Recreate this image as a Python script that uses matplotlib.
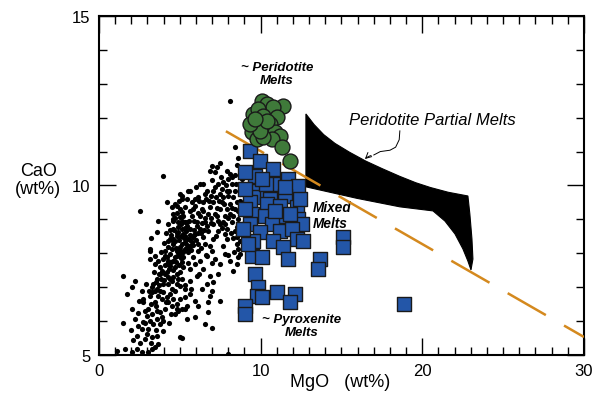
import numpy as np
import matplotlib.pyplot as plt
from matplotlib.patches import Polygon
from matplotlib.ticker import MultipleLocator

plt.rcParams['font.family'] = ['Liberation Sans', 'DejaVu Sans']
plt.rcParams['lines.scale_dashes'] = False

# whole-rock / melt compositions (MgO, CaO in wt%)
bulk = [
    (8.10, 12.49), (8.41, 11.14), (2.54, 9.25), (3.65, 8.95), (1.48, 7.33), (1.48, 5.94),
    (1.61, 5.18), (3.15, 8.13), (5.01, 5.53), (6.56, 5.91), (7.98, 5.03), (7.79, 7.98),
    (6.68, 7.92), (2.04, 7.01), (2.23, 7.18), (1.73, 6.80), (2.66, 6.89), (2.04, 6.36),
    (2.41, 5.86), (2.66, 5.77), (2.35, 5.56), (2.72, 5.97), (2.97, 6.15), (2.84, 6.30),
    (2.72, 6.56), (2.72, 6.65), (3.34, 7.09), (3.59, 7.24), (3.77, 7.39), (3.90, 7.48),
    (3.15, 6.74), (3.28, 6.86), (3.46, 6.89), (3.65, 6.74), (3.90, 6.65), (3.96, 6.86),
    (4.21, 6.71), (4.27, 6.56), (4.51, 6.45), (4.08, 6.36), (3.77, 6.27), (3.90, 6.12),
    (3.96, 6.00), (3.77, 5.91), (3.34, 5.91), (3.15, 6.00), (3.03, 5.77), (2.97, 5.62),
    (3.28, 5.53), (2.84, 5.47), (3.59, 5.56), (4.82, 6.36), (4.70, 6.21), (5.13, 6.36),
    (5.44, 6.06), (5.44, 6.45), (4.51, 7.18), (4.82, 7.39), (5.13, 7.24), (5.19, 7.60),
    (4.21, 7.45), (4.39, 7.63), (4.27, 7.77), (4.82, 7.92), (5.13, 7.74), (3.15, 8.07),
    (3.46, 7.92), (4.08, 7.92), (4.82, 8.07), (1.11, 5.12), (2.04, 5.09), (2.35, 5.18),
    (2.66, 5.09), (3.28, 5.18), (3.65, 5.32), (4.58, 7.77), (4.70, 7.60), (5.01, 7.45),
    (4.89, 7.24), (4.82, 7.09), (5.63, 7.18), (6.06, 7.33), (6.86, 7.33), (7.05, 7.15),
    (6.37, 6.95), (6.99, 6.89), (6.86, 6.74), (5.94, 6.59), (6.12, 6.45), (6.74, 6.56),
    (7.48, 6.59), (4.82, 6.50), (4.58, 6.65), (4.89, 6.30), (5.32, 6.36), (6.99, 5.80),
    (5.13, 5.50), (6.99, 8.07), (3.96, 10.28), (5.50, 9.84), (5.01, 9.75), (5.13, 9.60),
    (4.21, 9.51), (4.70, 9.45), (4.51, 9.37), (5.13, 9.22), (4.58, 8.95), (5.01, 9.07),
    (5.32, 8.92), (4.89, 8.78), (3.59, 8.63), (4.58, 8.42), (4.82, 8.51), (4.51, 8.13),
    (3.15, 7.83), (3.46, 7.68), (4.21, 7.68), (5.32, 8.51), (5.44, 8.81), (6.99, 10.58),
    (7.30, 10.55), (6.86, 10.43), (7.17, 10.40), (7.92, 10.43), (8.10, 10.34), (7.67, 10.10),
    (7.98, 10.19), (8.23, 10.04), (6.43, 10.04), (6.68, 9.84), (5.63, 9.84), (5.13, 9.69),
    (7.05, 9.84), (7.48, 9.75), (7.92, 9.84), (8.41, 9.84), (8.29, 9.66), (5.94, 9.60),
    (6.43, 9.51), (7.05, 9.51), (7.61, 9.51), (8.10, 9.45), (8.53, 9.51), (4.82, 9.40),
    (5.32, 9.37), (5.81, 9.31), (6.37, 9.31), (6.86, 9.37), (7.48, 9.31), (7.92, 9.31),
    (8.41, 9.31), (4.58, 9.16), (5.19, 9.10), (5.75, 9.10), (6.25, 9.10), (6.74, 9.16),
    (7.30, 9.10), (7.79, 9.10), (8.29, 9.10), (4.89, 8.92), (5.44, 8.92), (6.06, 8.92),
    (6.56, 8.92), (7.05, 8.86), (7.67, 8.92), (8.23, 8.92), (8.60, 9.01), (4.58, 8.72),
    (5.13, 8.72), (5.63, 8.72), (6.25, 8.72), (6.74, 8.66), (7.36, 8.66), (7.92, 8.72),
    (8.53, 8.78), (5.81, 8.48), (6.43, 8.48), (7.05, 8.42), (7.92, 8.42), (8.53, 8.48),
    (4.58, 8.27), (5.13, 8.27), (5.63, 8.22), (6.86, 8.22), (4.89, 8.04), (5.50, 8.04),
    (8.53, 8.27), (8.60, 8.13), (8.72, 7.98), (4.70, 8.36), (5.01, 8.19), (5.32, 8.33),
    (4.39, 7.98), (4.70, 7.89), (5.01, 7.98), (5.32, 8.13), (4.27, 8.19), (4.08, 8.07),
    (4.39, 8.42), (4.89, 8.63), (5.19, 8.57), (5.50, 8.42), (5.75, 8.33), (5.94, 8.57),
    (6.12, 8.27), (3.96, 7.83), (3.77, 7.60), (3.65, 7.77), (4.08, 7.39), (4.39, 7.24),
    (3.96, 7.09), (3.59, 6.95), (4.51, 6.95), (4.27, 7.09), (4.70, 6.89), (5.01, 7.04),
    (5.32, 6.95), (5.63, 6.80), (5.32, 6.71), (5.01, 6.65), (4.39, 6.80), (8.84, 10.19),
    (8.72, 10.01), (8.91, 9.45), (8.84, 8.86), (8.72, 8.36), (8.60, 7.89), (8.53, 7.68),
    (8.29, 7.48), (8.72, 9.75), (8.60, 9.25), (8.91, 9.16), (7.98, 9.69), (7.36, 10.04),
    (7.61, 9.90), (6.56, 9.75), (6.12, 9.66), (7.17, 9.16), (8.10, 9.16), (8.41, 8.66),
    (7.79, 8.57), (7.48, 8.86), (6.56, 8.27), (6.12, 8.07), (5.81, 7.89), (6.25, 7.77),
    (7.17, 7.83), (7.48, 7.68), (8.10, 7.77), (6.43, 7.54), (5.63, 7.54), (5.94, 7.68),
    (7.36, 7.39), (6.74, 6.27), (5.94, 6.12),
    (4.45, 8.55), (4.65, 8.70), (4.75, 8.15), (4.95, 8.40), (5.05, 8.85), (5.20, 8.05),
    (5.25, 8.45), (5.40, 8.65), (5.45, 8.25), (5.55, 8.95), (5.60, 8.55), (5.70, 8.10),
    (5.85, 8.70), (5.90, 8.95), (6.00, 8.40), (6.05, 8.80), (4.60, 9.00), (4.80, 9.20),
    (5.00, 9.30), (5.60, 9.25), (5.95, 9.40), (6.20, 9.55), (6.30, 8.60), (6.55, 9.05),
    (6.60, 9.60), (6.95, 9.70), (7.20, 9.95), (7.70, 9.65), (7.85, 10.00), (8.40, 10.30),
    (8.00, 9.05), (7.60, 8.75), (7.25, 8.50), (6.90, 8.90), (8.30, 8.45), (8.70, 8.60),
    (8.20, 9.35), (8.75, 9.55), (8.80, 10.50), (8.55, 10.60), (4.15, 8.60), (4.30, 8.85),
    (4.00, 8.30), (3.85, 8.05), (4.20, 7.90), (4.45, 7.75), (4.60, 7.50), (4.95, 7.65),
    (3.70, 7.40), (3.55, 7.15), (3.40, 7.45), (3.30, 7.00), (3.10, 6.90), (2.90, 7.10),
    (2.50, 6.60), (2.40, 6.25), (2.20, 6.05), (2.00, 5.75), (2.10, 5.45), (2.55, 5.35),
    (3.05, 5.10), (3.45, 5.25), (3.55, 6.45), (3.30, 6.20), (3.60, 6.05), (4.15, 6.55),
    (4.45, 6.20), (3.95, 5.70), (4.35, 5.95), (4.00, 7.20), (3.80, 6.90), (4.60, 7.30),
    (5.30, 7.05), (5.70, 6.95), (5.20, 7.90), (5.50, 7.70), (5.80, 8.25), (6.30, 8.15),
    (6.60, 7.95), (6.20, 7.40), (6.70, 7.10), (7.00, 7.70), (7.70, 8.20), (7.95, 7.95),
    (8.35, 8.05), (7.40, 9.55), (7.00, 10.15), (6.00, 9.95), (3.20, 8.45),
    (4.55, 8.35), (4.85, 8.60), (5.10, 8.50), (5.30, 8.75), (5.15, 8.95), (4.70, 9.05),
    (4.40, 8.70), (4.25, 8.35), (5.65, 8.40), (5.85, 8.55), (5.50, 8.15), (5.00, 8.10),
    (4.75, 7.75), (5.05, 7.85), (4.35, 7.55), (4.10, 7.65), (3.85, 7.25), (4.25, 7.30),
    (3.70, 7.05), (3.45, 6.55), (3.20, 6.50), (3.60, 6.30), (3.05, 6.35), (2.85, 5.95),
    (3.50, 5.75), (3.20, 5.35), (6.15, 9.20), (6.45, 9.25), (6.80, 9.55), (7.25, 9.65),
    (7.75, 9.45), (8.05, 9.85), (8.45, 10.05), (8.25, 10.25), (7.55, 10.25), (7.30, 9.35),
    (6.95, 9.05), (6.70, 8.80), (7.35, 8.95), (7.80, 8.85), (8.15, 8.60), (6.50, 8.70),
    (6.15, 8.60), (6.35, 8.90), (5.75, 9.50), (5.45, 9.60), (4.95, 9.55), (6.25, 10.05),
    (7.50, 10.65), (8.60, 10.80),
]
bulk_mgo = [p[0] for p in bulk]
bulk_cao = [p[1] for p in bulk]

# blue squares: mixed / pyroxenite melts
mixed = [
    (9.34, 11.02), (9.96, 10.72), (10.76, 10.49), (9.65, 10.28), (9.03, 10.40), (11.69, 10.19),
    (10.76, 10.04), (12.31, 9.99), (9.83, 9.84), (9.52, 9.66), (10.58, 9.60), (11.50, 9.69),
    (9.34, 9.51), (12.24, 9.37), (10.39, 9.45), (11.19, 9.40), (9.46, 9.16), (10.27, 9.10),
    (11.32, 9.10), (12.31, 9.01), (9.34, 8.86), (10.70, 8.86), (11.19, 8.66), (9.96, 8.63),
    (12.55, 8.86), (11.94, 8.72), (9.52, 8.36), (10.76, 8.36), (12.24, 8.42), (11.38, 8.19),
    (9.46, 7.92), (10.08, 7.89), (11.69, 7.83), (9.65, 7.39), (9.83, 7.01), (11.01, 6.86),
    (12.12, 6.80), (11.81, 6.56), (9.77, 6.74), (9.03, 6.45), (9.03, 6.21), (10.08, 6.71),
    (15.09, 8.48), (15.09, 8.19), (13.67, 7.83), (13.54, 7.54), (18.86, 6.50), (12.62, 8.36),
    (9.03, 9.90), (9.03, 9.31), (8.91, 8.72), (9.21, 8.27), (10.33, 10.04), (11.81, 9.16),
    (10.88, 9.25), (10.08, 10.19), (11.50, 9.96), (12.43, 9.60),
]
mixed_mgo = [p[0] for p in mixed]
mixed_cao = [p[1] for p in mixed]

# green circles: peridotite melts
perid = [
    (10.08, 12.49), (10.39, 12.40), (11.38, 12.35), (9.52, 12.11), (10.76, 12.32), (9.83, 12.26),
    (10.14, 12.05), (11.01, 12.02), (9.77, 11.87), (10.58, 11.81), (9.96, 11.75), (9.46, 11.58),
    (10.27, 11.58), (10.88, 11.58), (11.19, 11.46), (9.77, 11.37), (10.70, 11.37), (10.14, 11.43),
    (11.32, 11.14), (11.81, 10.72), (9.96, 11.61), (10.39, 11.90), (9.34, 11.81), (9.65, 11.96),
]
perid_mgo = [p[0] for p in perid]
perid_cao = [p[1] for p in perid]

# peridotite partial melt field outline
field_mgo = [12.80, 13.30, 13.90, 14.60, 15.50, 16.50, 17.50, 18.60, 19.60, 20.50, 21.60, 22.82,
             22.94, 23.07, 23.13, 23.01, 22.82, 22.51, 22.02, 21.40, 20.66, 18.61, 15.96, 12.80]
field_cao = [12.11, 11.80, 11.50, 11.24, 10.98, 10.72, 10.50, 10.27, 10.08, 9.94, 9.80, 9.69,
             9.16, 8.42, 7.83, 7.51, 7.77, 8.13, 8.57, 8.95, 9.25, 9.37, 9.62, 9.96]

# dashed trend line
trend_mgo = [7.85, 30.0]
trend_cao = [11.60, 5.53]

fig = plt.figure(figsize=(5.97, 4.06), dpi=100)
ax = fig.add_axes([0.1658, 0.1232, 0.8124, 0.835])

ax.scatter(bulk_mgo, bulk_cao, s=14, c='black', lw=0, zorder=2)
ax.add_patch(Polygon(np.column_stack([field_mgo, field_cao]), closed=True,
                     fc='black', ec='black', lw=0.8, zorder=3))
ax.plot(trend_mgo, trend_cao, color='#D4891E', lw=1.8, ls=(0, (31.7, 15.1)),
        solid_capstyle='butt', dash_capstyle='butt', zorder=3.5)
ax.scatter(mixed_mgo, mixed_cao, marker='s', s=100, c='#2356A8',
           edgecolors='#1a1a1a', lw=1, zorder=4)
ax.scatter(perid_mgo, perid_cao, marker='o', s=115, c='#3F7A3A',
           edgecolors='#1a1a1a', lw=1, zorder=5)

# squiggly pointer to the melt field
ax.plot([18.61, 18.57, 18.35, 18.0, 17.4, 17.0], [11.61, 11.35, 11.13, 11.04, 11.0, 10.9],
        color='black', lw=0.7, zorder=6)
ax.annotate('', xy=(16.33, 10.72), xytext=(17.0, 10.9),
            arrowprops=dict(arrowstyle='->', lw=0.7, color='black',
                            connectionstyle='arc3,rad=0.2'), zorder=6)

ax.text(20.6, 11.96, 'Peridotite Partial Melts', style='italic', fontsize=12,
        ha='center', va='center')
ax.text(11.0, 13.29, '~ Peridotite\nMelts', style='italic', weight='bold', fontsize=9.5,
        ha='center', va='center', linespacing=1.1)
ax.text(13.23, 9.13, 'Mixed\nMelts', style='italic', weight='bold', fontsize=9.8,
        ha='left', va='center', linespacing=1.1)
ax.text(12.55, 5.86, '~ Pyroxenite\nMelts', style='italic', weight='bold', fontsize=9.5,
        ha='center', va='center', linespacing=1.1)

ax.set_xlim(0, 30)
ax.set_ylim(5, 15)
ax.set_xticks([0, 10, 20, 30])
ax.set_yticks([5, 10, 15])
ax.xaxis.set_minor_locator(MultipleLocator(1))
ax.yaxis.set_minor_locator(MultipleLocator(1))
ax.tick_params(which='both', direction='in', top=True, right=True, width=1)
ax.tick_params(which='major', length=12, labelsize=12, pad=6)
ax.tick_params(which='minor', length=6)
for s in ax.spines.values():
    s.set_linewidth(1.5)

fig.text(0.570, 0.059, 'MgO   (wt%)', fontsize=13, ha='center', va='center')
fig.text(0.064, 0.555, 'CaO\n(wt%)', fontsize=13, ha='center', va='center', linespacing=1.1)

fig.savefig('out.png', dpi=100)
